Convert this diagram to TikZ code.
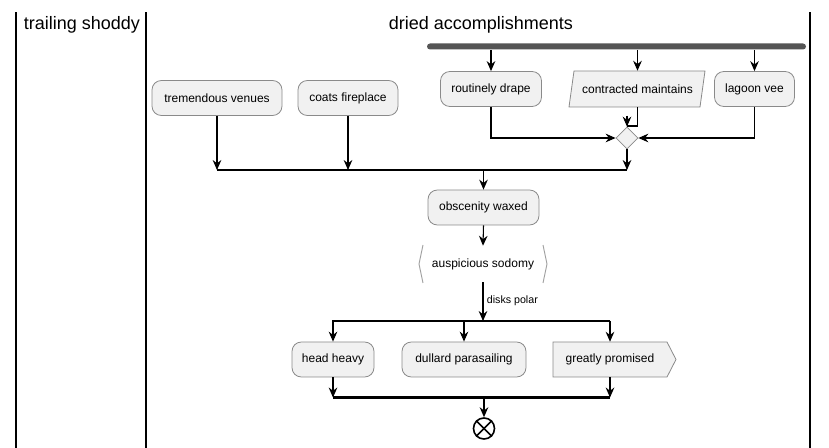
\documentclass[tikz,border=0pt]{standalone}
\usepackage{fontspec}
\setmainfont{Liberation Sans}
\usetikzlibrary{arrows.meta,shapes.geometric,calc}
\definecolor{nodefill}{HTML}{F1F1F1}
\definecolor{nodeline}{HTML}{8A8A8A}
\definecolor{barcol}{HTML}{555555}
\definecolor{hexline}{HTML}{A0A0A0}
\tikzset{
  act/.style={draw=nodeline, fill=nodefill, rounded corners=7pt, line width=0.6pt,
    minimum height=26.25pt, inner sep=0pt, font=\fontsize{9pt}{11pt}\selectfont},
  txt/.style={inner sep=0pt, font=\fontsize{9pt}{11pt}\selectfont},
  shp/.style={draw=nodeline, fill=nodefill, line width=0.6pt},
  arr/.style={line width=0.8pt, -{Stealth[length=7.5pt,width=6.5pt,inset=2.5pt]}},
  ln/.style={line width=0.8pt},
  bar/.style={line width=1.6pt},
  lanetitle/.style={font=\fontsize{13.5pt}{16pt}\selectfont, inner sep=0pt}
}
\begin{document}
\begin{tikzpicture}[x=0.75pt,y=-0.75pt]
\useasboundingbox (0,0) rectangle (829,448);
\node[lanetitle] (t1) at (82,25) {trailing shoddy};
\node[lanetitle] (t2) at (481,25) {dried accomplishments};
% top fork bar
\node[fill=barcol, rounded corners=2.25pt, minimum width=284.25pt, minimum height=4.5pt, inner sep=0pt] (fb1) at (616.5,46.5) {};
% row 1
\node[act, minimum width=75.75pt] (rd) at (491,89) {routinely drape};
\fill[nodefill] (569,107) -- (574,71) -- (705,71) -- (700,107) -- cycle;
\draw[nodeline, line width=0.6pt] (569,107) -- (574,71) -- (705,71) -- (700,107) -- cycle;
\node[txt, minimum width=97.5pt, minimum height=27pt] (cm) at (637.5,89) {contracted maintains};
\node[act, minimum width=60pt] (lv) at (754.5,89) {lagoon vee};
\node[shp, diamond, minimum width=16.5pt, minimum height=16.5pt, inner sep=0pt] (dia) at (627,138) {};
\draw[arr] (fb1.south -| rd.north) -- (rd.north);
\draw[arr] (fb1.south -| cm.north) -- (cm.north);
\draw[arr] (fb1.south -| lv.north) -- (lv.north);
\draw[arr] (rd.south) |- (dia.west);
\draw[arr] (lv.south) |- (dia.east);
\coordinate (cmj) at (627,126);
\draw[ln] (cm.south) |- (cmj);
\draw[arr] ($(dia.north)+(0,-11)$) -- (dia.north);
% left nodes
\node[act, minimum width=97.5pt] (tv) at (217,98) {tremendous venues};
\node[act, minimum width=75pt] (cf) at (348,98) {coats fireplace};
% merge 1
\coordinate (m1L) at (217,170);
\coordinate (m1R) at (627,170);
\draw[bar] (m1L) -- (m1R);
\draw[arr] (tv.south) -- (m1L);
\draw[arr] (cf.south) -- (cf.south |- m1L);
\draw[arr] (dia.south) -- (m1R);
\node[act, minimum width=83.25pt] (ow) at (483.5,207.5) {obscenity waxed};
\draw[arr] (ow.north |- m1L) -- (ow.north);
% auspicious sodomy
\node[txt, minimum width=96pt, minimum height=27pt] (as) at (483,264) {auspicious sodomy};
\draw[hexline, line width=0.7pt] (423,245) -- (419,264) -- (423,283);
\draw[hexline, line width=0.7pt] (543,245) -- (547,264) -- (543,283);
\draw[arr] (ow.south) -- (as.north);
% fork 2
\coordinate (f2L) at (332,321);
\coordinate (f2R) at (610,321);
\draw[bar] (f2L) -- (f2R);
\draw[arr] (as.south) -- node[right, xshift=1.5pt, yshift=1pt, font=\fontsize{8pt}{10pt}\selectfont, inner sep=1pt] {disks polar} (as.south |- f2L);
\node[act, minimum width=61.5pt] (hh) at (333,359.5) {head heavy};
\node[act, minimum width=93pt] (dp) at (464,359.5) {dullard parasailing};
\fill[nodefill] (553,342) -- (667,342) -- (676,359.5) -- (667,377) -- (553,377) -- cycle;
\draw[nodeline, line width=0.6pt] (553,342) -- (667,342) -- (676,359.5) -- (667,377) -- (553,377) -- cycle;
\node[txt, minimum width=85.5pt, minimum height=26.25pt] (gp) at (610,359.5) {greatly promised};
\draw[arr] (hh.north |- f2L) -- (hh.north);
\draw[arr] (dp.north |- f2L) -- (dp.north);
\draw[arr] (gp.north |- f2L) -- (gp.north);
% join
\coordinate (j2L) at (333,397.5);
\coordinate (j2R) at (610,397.5);
\draw[bar] (j2L) -- (j2R);
\draw[arr] (hh.south) -- (j2L);
\draw[arr] (gp.south) -- (j2R);
\node[draw, fill=white, circle, line width=1.2pt, minimum size=15.75pt, inner sep=0pt] (end) at (484,428.5) {};
\draw[line width=1.2pt] (end.north west) -- (end.south east);
\draw[line width=1.2pt] (end.north east) -- (end.south west);
\draw[arr] (end.north |- j2L) -- (end.north);
% lanes
\fill[black] (14.8,12) rectangle (17.2,448);
\fill[black] (144.8,12) rectangle (147.2,448);
\fill[black] (808.8,12) rectangle (811.2,448);
\end{tikzpicture}
\end{document}
